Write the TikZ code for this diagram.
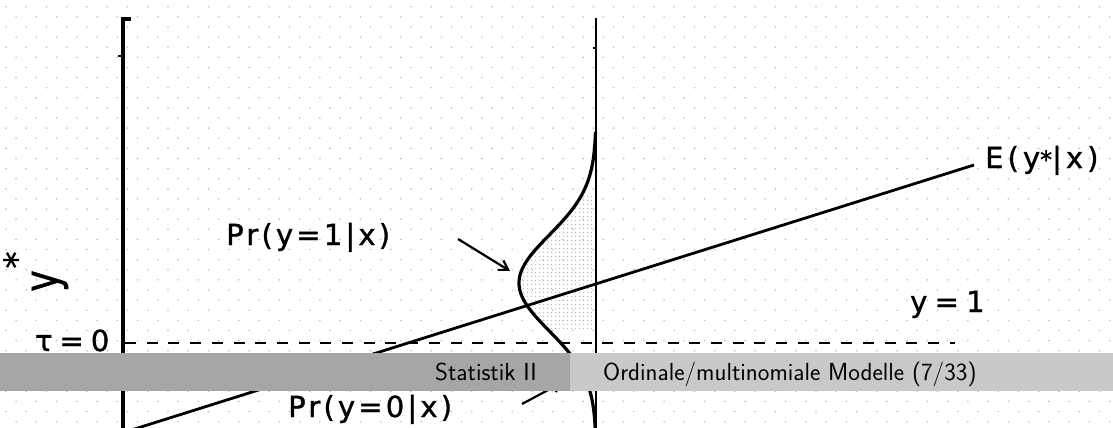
\documentclass[tikz,border=0pt]{standalone}
\usepackage{fontspec}
\usetikzlibrary{arrows.meta,patterns.meta}
\newfontfamily\labfont[FakeBold=1.2]{DejaVu Sans}
\definecolor{dotc}{RGB}{192,192,192}
\definecolor{footdark}{RGB}{166,166,166}
\definecolor{footlight}{RGB}{201,201,201}
\begin{document}
\begin{tikzpicture}[x=1pt,y=-1pt,
  lab/.style={inner sep=0pt, font=\labfont\fontsize{29}{34}\selectfont},
  foot/.style={inner sep=0pt, font=\sffamily\fontsize{24.7}{30}\selectfont},
  footbox/.style={draw=none, inner sep=0pt, anchor=north west, minimum height=38pt},
  axisline/.style={line width=3.4pt, line join=miter},
  thinaxis/.style={line width=2.3pt},
  densline/.style={line width=3.2pt},
  regline/.style={line width=2.8pt},
  tauline/.style={line width=2.4pt, dash pattern=on 11pt off 10.7pt},
  arr/.style={line width=2.2pt, -{Straight Barb[length=9pt,width=11pt,line width=2.2pt]}},
  shade/.style={pattern={Dots[distance=4pt,radius=0.7pt]}, pattern color=gray!60},
]
\useasboundingbox (0,0) rectangle (1113,428);
\clip (0,0) rectangle (1113,428);
% dotted paper
\foreach \r in {0,...,42}{
  \pgfmathsetmacro{\yy}{6.7+\r*10.12}
  \pgfmathsetmacro{\xo}{mod(\r,2)==0 ? 6 : 16.1}
  \foreach \k in {0,...,55}{
    \fill[dotc] ({\xo+\k*20.25},\yy) circle (0.9);
  }
}
% shaded area under the density
\fill[shade] plot[domain=195:330,samples=60] ({596-77*exp(-0.5*((\x-283)/48)*((\x-283)/48))},\x) -- (596,330) -- (596,195) -- cycle;
% axes
\draw[axisline] (131,19) -- (123,19) -- (123,432);
\draw[line width=2pt] (118,56) -- (123,56);
\draw[thinaxis] (596,18) -- (596,432);
\draw[line width=1.5pt] (593,48) -- (596,48);
% threshold
\coordinate (t0) at (125,343);
\coordinate (t1) at (955,343);
\draw[tauline] (t0) -- (t1);
% regression line
\coordinate (r0) at (125,432);
\coordinate (r1) at (974,165);
\draw[regline] (r0) -- (r1);
% density
\draw[densline] plot[domain=132:440,samples=120] ({596-77*exp(-0.5*((\x-283)/48)*((\x-283)/48))},\x);
% labels
\node[lab, anchor=base west] (elab) at (985,168) {\addfontfeature{LetterSpace=14}E(y{\fontsize{24}{24}\selectfont *}|x)};
\node[lab, anchor=base west] (p1lab) at (226,245) {\addfontfeature{LetterSpace=11}Pr(y=1|x)};
\node[lab, anchor=base west] (y1lab) at (910,312) {\addfontfeature{LetterSpace=25}y=1};
\node[lab, anchor=base west] (taulab) at (35,351) {\addfontfeature{LetterSpace=24}τ=0};
\node[lab, anchor=base west] (p0lab) at (288,417) {\addfontfeature{LetterSpace=11}Pr(y=0|x)};
\node[inner sep=0pt, rotate=90, font=\labfont\fontsize{48}{50}\selectfont] (ylab) at (50,281) {\scalebox{0.75}[1]{y}};
\node[inner sep=0pt, rotate=90, font=\labfont\fontsize{34}{34}\selectfont] (starlab) at (16,260) {*};
% arrows
\coordinate (a1s) at (458,239);
\coordinate (a1e) at (510,271);
\draw[arr] (a1s) -- (a1e);
\coordinate (a2s) at (522,404);
\coordinate (a2e) at (563,382);
\draw[arr] (a2s) -- (a2e);
% footline
\node[footbox, fill=footdark, minimum width=570pt] (footl) at (0,353) {};
\node[footbox, fill=footlight, minimum width=543pt] (footr) at (570,353) {};
\node[foot, anchor=base east] (author) at (537,380) {Statistik II};
\node[foot, anchor=base west] (title) at (603,380) {Ordinale/multinomiale Modelle (7/33)};
\end{tikzpicture}
\end{document}
